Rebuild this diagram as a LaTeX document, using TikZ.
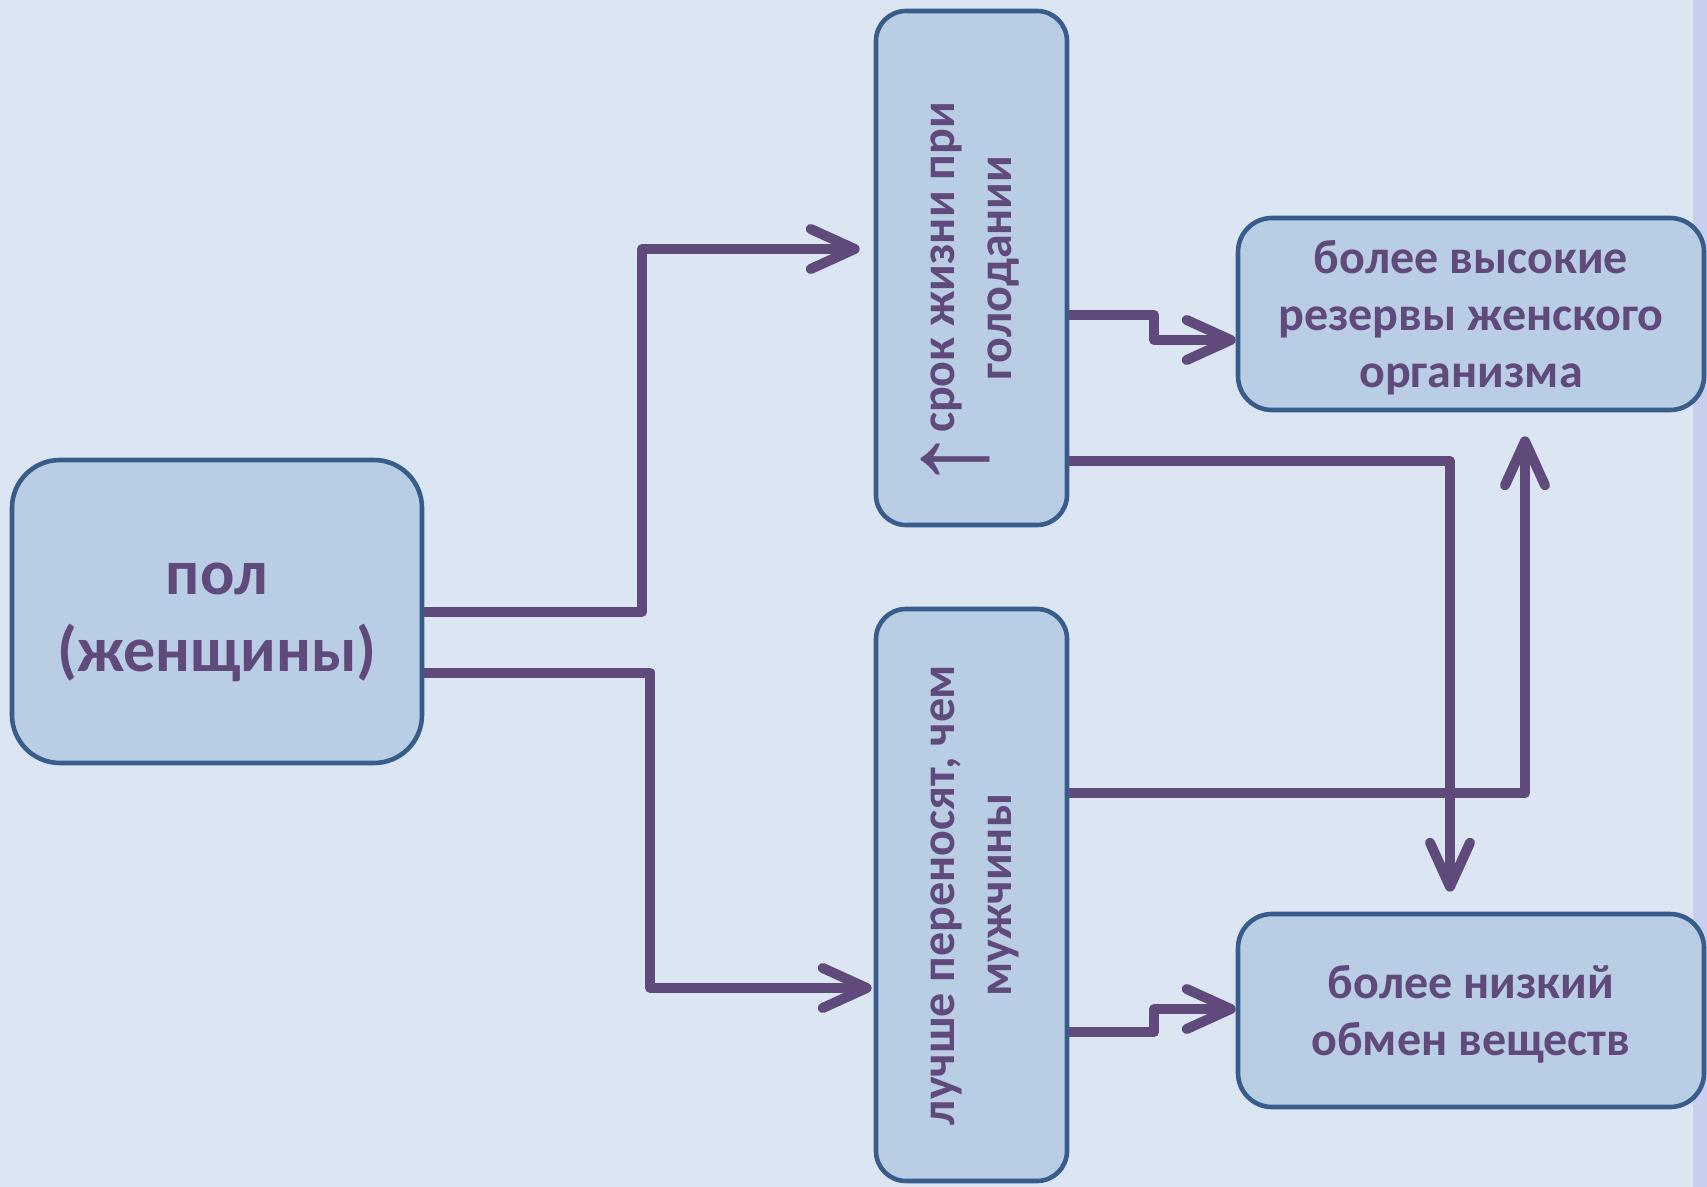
\documentclass[tikz,border=0pt]{standalone}
\usepackage{fontspec}
\setmainfont{Carlito}
\newfontfamily\arrowfont{Liberation Sans}
\usetikzlibrary{arrows.meta,calc}
\definecolor{bgblue}{RGB}{220,230,242}
\definecolor{stripe}{RGB}{198,208,236}
\definecolor{boxfill}{RGB}{185,205,229}
\definecolor{boxline}{RGB}{56,93,138}
\definecolor{txtpurple}{RGB}{96,74,123}
\tikzstyle{link} = [line width=5pt, draw=txtpurple, line join=round, -{Straight Barb[length=22pt,width=20pt,round]}]
\tikzset{
    block/.style = {draw=boxline, line width=2.3pt, fill=boxfill, rectangle, rounded corners=16pt, text=txtpurple, inner sep=0pt, align=center, font=\bfseries\fontsize{24pt}{28.5pt}\selectfont},
}
\newcommand{\sideways}[1]{\rotatebox{90}{\begin{tabular}{@{}c@{}}#1\end{tabular}}}
\newcommand{\uparr}{\raisebox{-16pt}[0pt][0pt]{\arrowfont\mdseries\fontsize{30pt}{30pt}\selectfont\scalebox{2.2}[1.94]{↑}}}

\begin{document}
\begin{tikzpicture}[x=0.5pt, y=-0.5pt]
    \useasboundingbox (0,0) rectangle (1707,1187);
    \fill [bgblue] (0,0) rectangle (1707,1187);
    \fill [stripe] (1693,0) rectangle (1707,1187);

    \node [block, minimum width=205pt, minimum height=151.5pt, rounded corners=24pt, font=\bfseries\fontsize{32pt}{38.5pt}\selectfont] (sex) at (217,611.5) {\strut пол\\(женщины)};
    \node [block, minimum width=95.5pt, minimum height=257pt, rounded corners=15pt] (life) at (971.5,268) {\sideways{\uparr\hspace{-8.5pt} срок жизни при\hspace*{29.5pt}\\голодании}};
    \node [block, minimum width=95.5pt, minimum height=286pt, rounded corners=15pt] (better) at (971.5,895) {\sideways{лучше переносят, чем\\мужчины}};
    \node [block, minimum width=233pt, minimum height=96pt, rounded corners=17pt] (reserves) at (1471,314) {\strut более высокие\\резервы женского\\организма};
    \node [block, minimum width=233pt, minimum height=96.5pt, rounded corners=17pt] (metab) at (1471,1010.5) {\strut более низкий\\обмен веществ};

    \draw [link, shorten >=7pt] (sex.east) -- ++(218,0) |- ($(life.west)+(0,-19)$);
    \draw [link, shorten >=1pt] ($(sex.east)+(0,61)$) -- ++(226,0) |- ($(better.west)+(0,93)$);
    \draw [link] ($(life.east)+(0,47)$) -- ++(85,0) |- ($(reserves.west)+(0,26)$);
    \draw [link, shorten >=10pt] ($(life.east)+(0,193)$) -| ($(metab.north)+(-21,0)$);
    \draw [link, shorten >=12pt] ($(better.east)+(0,-102)$) -| ($(reserves.south)+(54,0)$);
    \draw [link] ($(better.east)+(0,137)$) -- ++(85,0) |- ($(metab.west)+(0,-1.5)$);
\end{tikzpicture}
\end{document}
